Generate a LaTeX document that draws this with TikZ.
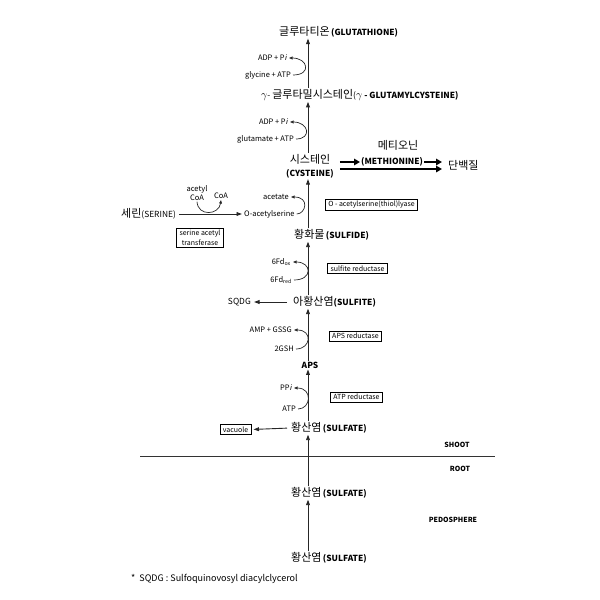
\documentclass[tikz,border=0pt]{standalone}
\usepackage{fontspec}
\setmainfont{Noto Sans CJK KR}
\newfontfamily\slfont{Noto Sans CJK KR}[FakeSlant=0.2]
\usetikzlibrary{arrows.meta,calc}
\newcommand{\Pee}{P{\slfont i}}
\newcommand{\ko}[1]{{\fontsize{11}{13}\selectfont #1}}
\newcommand{\gam}{{\fontsize{10.5}{13}\selectfont$\gamma$}}
\begin{document}
\begin{tikzpicture}[x=1pt,y=-1pt,
  lbl/.style={inner sep=1pt, font=\fontsize{8.4}{13}\selectfont},
  sm/.style={inner sep=1pt, font=\fontsize{7.5}{9}\selectfont},
  enz/.style={draw, line width=0.6pt, inner xsep=3pt, inner ysep=2pt,
    font=\fontsize{7}{9.5}\selectfont, align=center},
  zone/.style={inner sep=1pt, font=\bfseries\fontsize{7}{8}\selectfont},
  flow/.style={line width=0.9pt, draw=black!85,
    -{Triangle[length=5.5pt,width=3.8pt]}},
  side/.style={line width=0.7pt, draw=black!85,
    -{Triangle[length=3.5pt,width=2.8pt]}},
  bigarrow/.style={line width=2.3pt, -{Triangle[length=6pt,width=6.5pt]}},
  cofactor/.style={side, shorten <=1pt, shorten >=1pt}
]
\useasboundingbox (0,0) rectangle (600,600);
\coordinate (ax) at (308,0);

% main metabolites
\node[lbl, anchor=west] (gsh) at (278,32) {\ko{글루타티온}\,{\bfseries(GLUTATHIONE)}};
\node[lbl, anchor=west] (gec) at (260,95) {\gam- \ko{글루타밀시스테인}(\gam{\bfseries\ - GLUTAMYLCYSTEINE)}};
\node[lbl, align=center] (cys) at (310,166) {\ko{시스테인}\\{\bfseries(CYSTEINE)}};
\node[lbl, anchor=west] (met) at (360,162) {\bfseries(METHIONINE)};
\node[lbl] (metk) at (398,145) {\ko{메티오닌}};
\node[lbl, anchor=west] (prot) at (447,165) {\ko{단백질}};
\node[lbl, anchor=west] (ser) at (120,214) {\ko{세린}(SERINE)};
\node[lbl, anchor=west] (sulfide) at (293,235) {\ko{황화물}\,{\bfseries(SULFIDE)}};
\node[lbl, anchor=west] (sulfite) at (292,302) {\ko{아황산염}{\bfseries(SULFITE)}};
\node[lbl, anchor=east] (sqdg) at (252,302) {SQDG};
\node[lbl] (aps) at (310,365) {\bfseries APS};
\node[lbl, anchor=west] (sul1) at (290,428) {\ko{황산염}\,{\bfseries(SULFATE)}};
\node[lbl, anchor=west] (sul2) at (290,493) {\ko{황산염}\,{\bfseries(SULFATE)}};
\node[lbl, anchor=west] (sul3) at (290,558) {\ko{황산염}\,{\bfseries(SULFATE)}};

% co-substrates and by-products
\node[sm, anchor=east] (adp1) at (288,58) {ADP + \Pee};
\node[sm, anchor=east] (gly) at (292,75) {glycine + ATP};
\node[sm, anchor=east] (adp2) at (289,122) {ADP + \Pee};
\node[sm, anchor=east] (glu) at (295,139) {glutamate + ATP};
\node[sm, anchor=east] (acet) at (290,197) {acetate};
\node[sm, anchor=west] (oas) at (243,214) {O-acetylserine};
\node[sm, align=center] (acoa) at (197,193) {acetyl\\CoA};
\node[sm] (coa) at (221,196) {CoA};
\node[sm, anchor=east] (fdox) at (292,262) {6Fd\textsubscript{ox}};
\node[sm, anchor=east] (fdred) at (293,280) {6Fd\textsubscript{red}};
\node[sm, anchor=east] (ampg) at (293,330) {AMP + GSSG};
\node[sm, anchor=east] (gsh2) at (295,349) {2GSH};
\node[sm, anchor=east] (ppi) at (293,388) {P\Pee};
\node[sm, anchor=east] (atp) at (297,409) {ATP};

% enzymes and compartments
\node[enz] (oasl) at (371.5,204.5) {O - acetylserine(thiol)lyase};
\node[enz] (sat) at (200,238) {serine acetyl\\transferase};
\node[enz] (sir) at (357.5,268.5) {sulfite reductase};
\node[enz] (apr) at (355.5,336) {APS reductase};
\node[enz] (atpr) at (356.5,397) {ATP reductase};
\node[enz] (vac) at (235.5,429.5) {vacuole};

% zones
\node[zone] (shoot) at (457,445) {SHOOT};
\node[zone] (root) at (460,469) {ROOT};
\node[zone] (pedo) at (453,520) {PEDOSPHERE};
\coordinate (divl) at (140,456);
\coordinate (divr) at (495,456);
\draw[line width=0.9pt, black!80] (divl) -- (divr);

\node[sm, anchor=west, font=\fontsize{9}{10}\selectfont] (note) at (130,579) {*\ \ SQDG : Sulfoquinovosyl diacylclycerol};

% assimilation axis
\draw[flow] (ax |- sul3.north) -- (ax |- sul2.south);
\draw[flow] (ax |- sul2.north) -- (ax |- sul1.south);
\draw[flow] (ax |- sul1.north) -- (ax |- aps.south);
\draw[flow] (ax |- aps.north) -- (ax |- sulfite.south);
\draw[flow] (ax |- sulfite.north) -- (ax |- sulfide.south);
\draw[flow] (ax |- sulfide.north) -- (ax |- cys.south);
\draw[flow] (ax |- cys.north) -- (ax |- gec.south);
\draw[flow] (ax |- gec.north) -- (ax |- gsh.south);

% side branches
\draw[flow, shorten <=3pt, shorten >=2pt] (sul1.west) -- (vac.east);
\draw[flow, shorten <=5pt, shorten >=2pt] (sulfite.west) -- (sqdg.east);
\draw[flow, shorten <=2pt, shorten >=1pt] (ser.east) -- (oas.west);
\draw[bigarrow] ($(cys.east)+(5,-4)$) -- (met.west);
\draw[bigarrow] (met.east) -- ($(prot.west)+(-5,-3)$);
\draw[bigarrow] ($(cys.east)+(5,3)$) -- ($(prot.west)+(-5,4)$);

% co-substrate curls
\draw[cofactor] (gly.east) .. controls +(20,0) and +(20,0) .. (adp1.east);
\draw[cofactor] (glu.east) .. controls +(17,0) and +(20,0) .. (adp2.east);
\draw[cofactor] (oas.east) .. controls +(10,0) and +(20,0) .. (acet.east);
\draw[cofactor] (fdred.east) .. controls +(20,0) and +(20,0) .. (fdox.east);
\draw[cofactor] (gsh2.east) .. controls +(16,0) and +(20,0) .. (ampg.east);
\draw[cofactor] (atp.east) .. controls +(14,0) and +(20,0) .. (ppi.east);
\draw[side] (acoa.south) .. controls +(1,15) and +(-2,15) .. (coa.south);
\end{tikzpicture}
\end{document}
